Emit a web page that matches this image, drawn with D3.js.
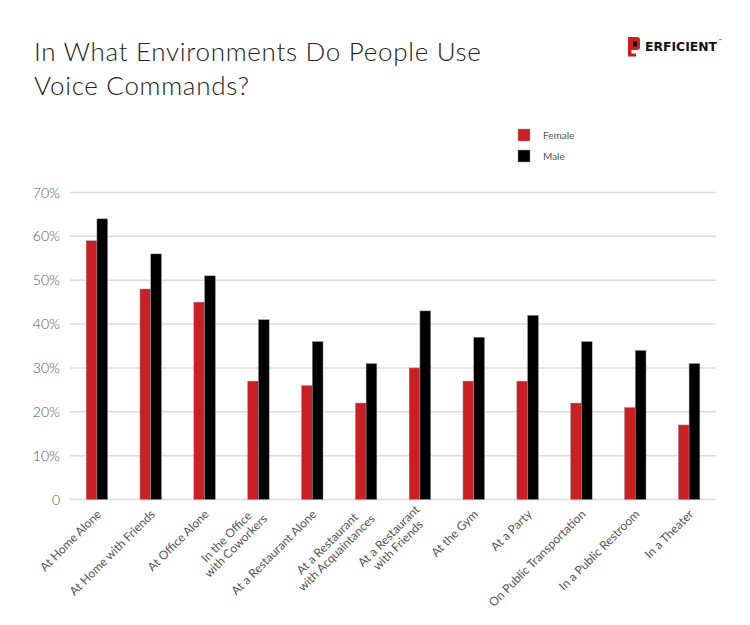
<!DOCTYPE html>
<html>
<head>
<meta charset="utf-8">
<script src="https://cdn.jsdelivr.net/npm/d3@7/dist/d3.min.js"></script>
<style>
  html, body { margin: 0; padding: 0; background: #fff; }
  svg { display: block; font-family: Lato, "Open Sans", sans-serif; }
</style>
</head>
<body>
<svg id="chart" width="750" height="625"></svg>
<script>
const categories = [
  "At Home Alone",
  "At Home with Friends",
  "At Office Alone",
  "In the Office\nwith Coworkers",
  "At a Restaurant Alone",
  "At a Restaurant\nwith Acquaintances",
  "At a Restaurant\nwith Friends",
  "At the Gym",
  "At a Party",
  "On Public Transportation",
  "In a Public Restroom",
  "In a Theater"
];
const female = [59, 48, 45, 27, 26, 22, 30, 27, 27, 22, 21, 17];
const male   = [64, 56, 51, 41, 36, 31, 43, 37, 42, 36, 34, 31];
const seriesNames = ["Female", "Male"];
const yTicks = [0, 10, 20, 30, 40, 50, 60, 70];
const titleLines = ["In What Environments Do People Use", "Voice Commands?"];

const colors = { Female: "#cc1f24", Male: "#000000" };
const svg = d3.select("#chart");

const pLeft = 70, pRight = 716, pTop = 192.5, pBottom = 499.5;

const x = d3.scaleBand().domain(d3.range(categories.length)).range([pLeft, pRight]).paddingInner(0.6).paddingOuter(0.3);
const xs = d3.scaleBand().domain(seriesNames).range([0, x.bandwidth()]);
const y = d3.scaleLinear().domain([0, 70]).range([pBottom, pTop]);

// Title
svg.append("g").selectAll("text").data(titleLines).join("text")
  .attr("x", 34).attr("y", (d, i) => 61 + i * 34)
  .attr("font-size", 26).attr("font-weight", 300).attr("letter-spacing", 0.7).attr("fill", "#222")
  .text(d => d);

// Gridlines
svg.append("g").selectAll("line").data(yTicks).join("line")
  .attr("x1", pLeft).attr("x2", pRight)
  .attr("y1", d => y(d)).attr("y2", d => y(d))
  .attr("stroke", "#dcdcdc").attr("stroke-width", 1.5);

// Y tick labels
svg.append("g").selectAll("text").data(yTicks).join("text")
  .attr("x", 60).attr("y", d => y(d)).attr("dy", "0.36em")
  .attr("text-anchor", "end").attr("font-size", 14).attr("font-weight", 300).attr("fill", "#555")
  .text(d => d === 0 ? "0" : d + "%");

// Bars
const groups = svg.append("g").selectAll("g").data(categories.map((c, i) => i)).join("g")
  .attr("transform", i => `translate(${x(i)},0)`);
groups.selectAll("rect").data(i => [{k: "Female", v: female[i]}, {k: "Male", v: male[i]}]).join("rect")
  .attr("x", d => xs(d.k)).attr("width", xs.bandwidth())
  .attr("y", d => y(d.v)).attr("height", d => y(0) - y(d.v))
  .attr("fill", d => colors[d.k])
  .attr("stroke", "#999").attr("stroke-width", 0.5);

// X labels
const lh = 13;
const lab = svg.append("g").selectAll("g").data(categories.map((c, i) => i)).join("g")
  .attr("transform", i => `translate(${x(i) + x.bandwidth() / 2 + 2},512) rotate(-45)`);
lab.each(function(i) {
  const g = d3.select(this);
  const lines = categories[i].split("\n");
  const texts = lines.map((ln, j) => g.append("text")
    .attr("font-size", 12).attr("fill", "#555")
    .attr("text-anchor", "middle")
    .attr("y", (j - (lines.length - 1) / 2) * lh)
    .attr("dy", "0.35em")
    .text(ln));
  const W = d3.max(texts, t => t.node().getComputedTextLength());
  texts.forEach(t => t.attr("x", -W / 2));
});

// Legend
const leg = svg.append("g").selectAll("g").data(seriesNames).join("g")
  .attr("transform", (d, i) => `translate(518,${129 + i * 21})`);
leg.append("rect").attr("width", 12).attr("height", 12)
  .attr("fill", d => colors[d]).attr("stroke", "#999").attr("stroke-width", 0.5);
leg.append("text").attr("x", 25).attr("y", 6).attr("dy", "0.35em")
  .attr("font-size", 10).attr("fill", "#555").text(d => d);

// Logo
const logo = svg.append("g").attr("transform", "translate(628,37)");
logo.append("path")
  .attr("d", "M0,0 H9 Q12,0 12,3 V10 Q12,13 9,13 H3.5 V16.5 H8 V19.5 H0 Z")
  .attr("fill", "#cc1f24");
logo.append("rect").attr("x", 5).attr("y", 4.5).attr("width", 4).attr("height", 5).attr("fill", "#111");
logo.append("text").attr("x", 17).attr("y", 14.2)
  .attr("font-family", "'DejaVu Sans Condensed', 'Liberation Sans Narrow', sans-serif")
  .attr("font-weight", 700).attr("font-size", 12.5)
  .attr("textLength", 72).attr("lengthAdjust", "spacingAndGlyphs")
  .attr("fill", "#111").text("ERFICIENT");
logo.append("text").attr("x", 91).attr("y", 5).attr("font-size", 4).attr("fill", "#111").text("™");
</script>
</body>
</html>
